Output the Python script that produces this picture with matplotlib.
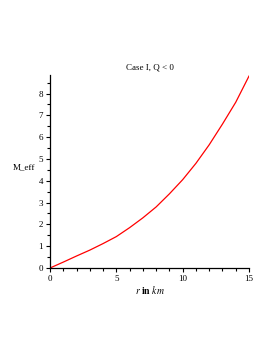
import matplotlib
matplotlib.use('Agg')
import matplotlib.pyplot as plt
from matplotlib.ticker import MultipleLocator

# values
r_km = [0, 1, 2, 3, 4, 5, 6, 7, 8, 9, 10, 11, 12, 13, 14, 15]
m_eff = [0, 0.27, 0.55, 0.82, 1.12, 1.44, 1.85, 2.3, 2.8, 3.4, 4.05, 4.8, 5.65, 6.6, 7.6, 8.8]

plt.rcParams['font.family'] = ['Liberation Serif', 'DejaVu Serif']
plt.rcParams['mathtext.fontset'] = 'stix'

fig = plt.figure(figsize=(2.73, 3.53), dpi=100)
ax = fig.add_axes([50 / 273, 85 / 353, 199 / 273, 193 / 353])

ax.plot(r_km, m_eff, color='red', lw=0.9)

ax.set_xlim(0, 15)
ax.set_ylim(0, 8.85)
ax.spines['top'].set_visible(False)
ax.spines['right'].set_visible(False)
ax.spines['left'].set_linewidth(0.9)
ax.spines['bottom'].set_linewidth(0.9)

ax.xaxis.set_major_locator(MultipleLocator(5))
ax.xaxis.set_minor_locator(MultipleLocator(1))
ax.yaxis.set_major_locator(MultipleLocator(1))
ax.yaxis.set_minor_locator(MultipleLocator(0.5))
ax.tick_params(which='major', length=3, width=0.8, labelsize=6.5, pad=2)
ax.tick_params(which='minor', length=2, width=0.8)

ax.set_title('Case I, Q < 0', fontsize=6.5, pad=4)
ax.set_xlabel(r'$\it{r}$ $\bf{in}$ $\it{km}$', fontsize=7)
ax.xaxis.set_label_coords(0.5, -0.085)
ax.set_ylabel('M_eff', fontsize=6.5, rotation=0)
ax.yaxis.set_label_coords(-0.13, 0.5)

plt.savefig('out.png', dpi=100)
